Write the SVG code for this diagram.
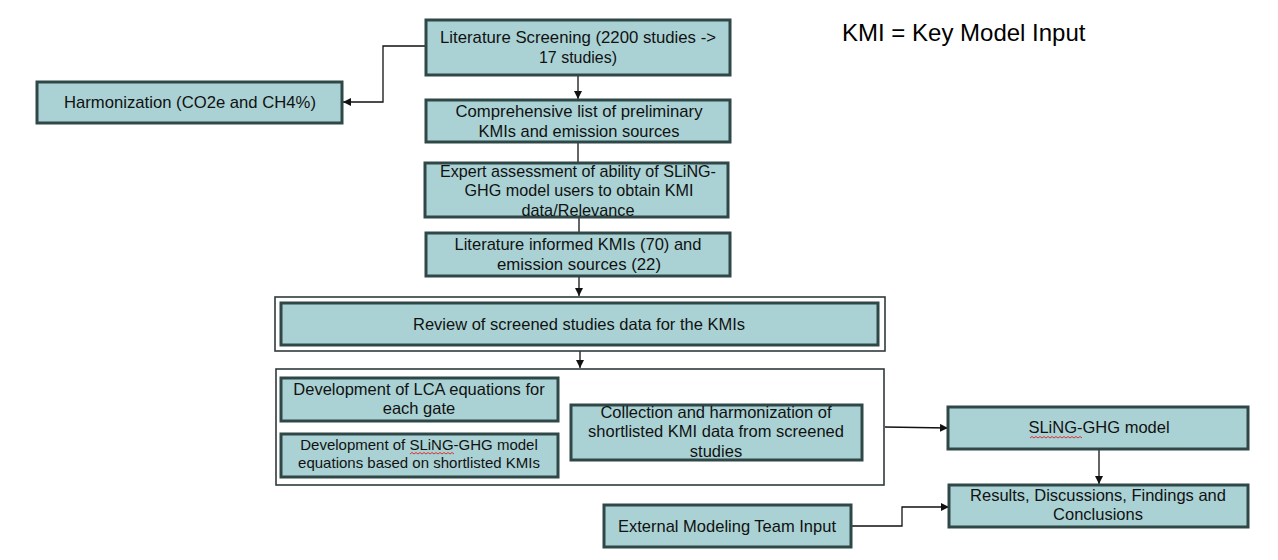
<svg xmlns="http://www.w3.org/2000/svg" width="1278" height="560" viewBox="0 0 1278 560">
<defs>
<style>
.n{fill:#aad2d4;stroke:#2f4847;stroke-width:3}
.o{fill:#ffffff;stroke:#2f3b3b;stroke-width:1.6}
.t{font-family:"Liberation Sans",Arial,sans-serif;font-size:16.5px;fill:#111;text-anchor:middle}
.c{font-family:"Liberation Sans",Arial,sans-serif;font-size:17px;fill:#111;text-anchor:middle}
.s{font-size:15px}
.k{font-family:"Liberation Sans",Arial,sans-serif;font-size:24px;fill:#000}
.l{fill:none;stroke:#111;stroke-width:1.3}
.w{fill:none;stroke:#e02020;stroke-width:0.9}
</style>
<marker id="a" viewBox="0 0 10 10" refX="10" refY="5" markerWidth="8" markerHeight="8" markerUnits="userSpaceOnUse" orient="auto">
<path d="M0,0L10,5L0,10z" fill="#111"/>
</marker>
</defs>
<rect width="1278" height="560" fill="#ffffff"/>
<text class="k" x="842" y="41">KMI = Key Model Input</text>
<g id="connectors">
<polyline class="l" points="426,46 383,46 383,102 343,102" marker-end="url(#a)"/>
<line class="l" x1="578" y1="76" x2="578" y2="99" marker-end="url(#a)"/>
<line class="l" x1="578" y1="142" x2="578" y2="163"/>
<line class="l" x1="579" y1="218" x2="579" y2="233"/>
<line class="l" x1="579" y1="277" x2="579" y2="296" marker-end="url(#a)"/>
<line class="l" x1="580" y1="351" x2="580" y2="368" marker-end="url(#a)"/>
<line class="l" x1="885" y1="427" x2="948" y2="428" marker-end="url(#a)"/>
<line class="l" x1="1099" y1="449" x2="1099" y2="484" marker-end="url(#a)"/>
<polyline class="l" points="851,526 902,526 902,507 949,507" marker-end="url(#a)"/>
</g>
<g id="lit-screening">
<rect class="n" x="426" y="20" width="304" height="55"/>
<text class="c" x="578" y="43" textLength="276" lengthAdjust="spacingAndGlyphs">Literature Screening (2200 studies -&gt;</text>
<text class="c" x="578" y="63" textLength="78" lengthAdjust="spacingAndGlyphs">17 studies)</text>
</g>
<g id="harmonization">
<rect class="n" x="37" y="82" width="305" height="41"/>
<text class="c" x="190" y="108" textLength="252" lengthAdjust="spacingAndGlyphs">Harmonization (CO2e and CH4%)</text>
</g>
<g id="comprehensive">
<rect class="n" x="426" y="100" width="304" height="42"/>
<text class="c" x="579" y="117" textLength="247" lengthAdjust="spacingAndGlyphs">Comprehensive list of preliminary</text>
<text class="c" x="579" y="137" textLength="201" lengthAdjust="spacingAndGlyphs">KMIs and emission sources</text>
</g>
<g id="expert">
<rect class="n" x="425" y="163" width="303" height="54"/>
<text class="c" x="578" y="177" textLength="276" lengthAdjust="spacingAndGlyphs">Expert assessment of ability of SLiNG-</text>
<text class="c" x="579" y="196" textLength="229" lengthAdjust="spacingAndGlyphs">GHG model users to obtain KMI</text>
<text class="c" x="578" y="216" textLength="113" lengthAdjust="spacingAndGlyphs">data/Relevance</text>
</g>
<g id="lit-informed">
<rect class="n" x="426" y="233" width="304" height="43"/>
<text class="c" x="578" y="250" textLength="247" lengthAdjust="spacingAndGlyphs">Literature informed KMIs (70) and</text>
<text class="c" x="579" y="270" textLength="164" lengthAdjust="spacingAndGlyphs">emission sources (22)</text>
</g>
<g id="review">
<rect class="o" x="275" y="297" width="610" height="54"/>
<rect class="n" x="281" y="303" width="597" height="42"/>
<text class="t" x="579" y="330">Review of screened studies data for the KMIs</text>
</g>
<g id="development-group">
<rect class="o" x="276" y="369" width="608" height="116"/>
</g>
<g id="lca">
<rect class="n" x="281" y="378" width="277" height="43"/>
<text class="t" x="419" y="395">Development of LCA equations for</text>
<text class="t" x="419" y="414">each gate</text>
</g>
<g id="sling-dev">
<rect class="n" x="281" y="434" width="277" height="43"/>
<text class="t s" x="419" y="450">Development of SLiNG-GHG model</text>
<text class="t s" x="419" y="468">equations based on shortlisted KMIs</text>
<path class="w" d="M410,454 l2,-1.5 l2,1.5 l2,-1.5 l2,1.5 l2,-1.5 l2,1.5 l2,-1.5 l2,1.5 l2,-1.5 l2,1.5 l2,-1.5 l2,1.5 l2,-1.5 l2,1.5 l2,-1.5 l2,1.5 l2,-1.5 l2,1.5 l2,-1.5 l2,1.5 l2,-1.5 l2,1.5"/>
</g>
<g id="collection">
<rect class="n" x="571" y="405" width="291" height="55"/>
<text class="t" x="716" y="418">Collection and harmonization of</text>
<text class="t" x="716" y="437">shortlisted KMI data from screened</text>
<text class="t" x="716" y="457">studies</text>
</g>
<g id="sling-model">
<rect class="n" x="948" y="407" width="300" height="42"/>
<text class="t" x="1099" y="433">SLiNG-GHG model</text>
<path class="w" d="M1030,438 l2,-1.5 l2,1.5 l2,-1.5 l2,1.5 l2,-1.5 l2,1.5 l2,-1.5 l2,1.5 l2,-1.5 l2,1.5 l2,-1.5 l2,1.5 l2,-1.5 l2,1.5 l2,-1.5 l2,1.5 l2,-1.5 l2,1.5 l2,-1.5 l2,1.5 l2,-1.5 l2,1.5 l2,-1.5 l2,1.5 l2,-1.5 l2,1.5"/>
</g>
<g id="results">
<rect class="n" x="949" y="485" width="299" height="42"/>
<text class="t" x="1098" y="501">Results, Discussions, Findings and</text>
<text class="t" x="1098" y="520">Conclusions</text>
</g>
<g id="external">
<rect class="n" x="604" y="505" width="247" height="42"/>
<text class="c" x="727" y="532" textLength="218" lengthAdjust="spacingAndGlyphs">External Modeling Team Input</text>
</g>
</svg>
